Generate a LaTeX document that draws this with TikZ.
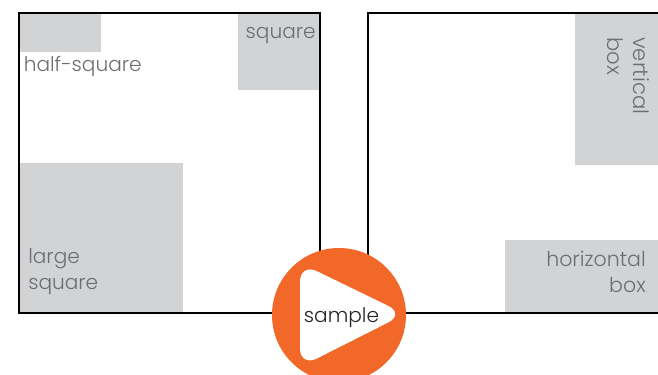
\documentclass[tikz,border=0pt]{standalone}
\usepackage{fontspec}
\setmainfont{Poppins Light}
\definecolor{boxgray}{HTML}{D1D3D4}
\definecolor{txt}{HTML}{6D6E71}
\definecolor{org}{HTML}{F26828}
\tikzset{x=0.75pt,y=-0.75pt,
frame/.style={draw=black,line width=1.5pt},
fillbox/.style={fill=boxgray,draw=none},
lab/.style={text=txt,font=\fontsize{15.1}{19.5}\selectfont,inner sep=0pt,align=left}}
\begin{document}
\begin{tikzpicture}
\useasboundingbox (0,0) rectangle (658,375);
\fill[fillbox] (20,14) rectangle (101,52);
\fill[fillbox] (238,14) rectangle (319,90);
\fill[fillbox] (20,163) rectangle (183,312);
\fill[fillbox] (575,14) rectangle (658,165);
\fill[fillbox] (505,240) rectangle (658,312);
\draw[frame] (19,13) rectangle (320,313);
\draw[frame] (658,13) -- (368,13) -- (368,313) -- (658,313);
\node[lab,anchor=west] (hs) at (23.5,66) {half-square};
\node[lab,anchor=east] (sq) at (316,35) {square};
\node[lab,anchor=west] (ls) at (28,272) {large\\square};
\node[lab,anchor=east,align=right,font=\fontsize{15.4}{19.5}\selectfont] (hb) at (646,272) {horizontal\\box};
\node[lab,anchor=north west,rotate=-90,align=left,font=\fontsize{15.9}{20}\selectfont] (vb) at (650,37) {vertical\\box};
\fill[org] (339,315) circle (67);
\fill[white,rounded corners=14pt] (300,263) -- (405,314) -- (300,367) -- cycle;
\node[lab,text=black!85,anchor=center] (s) at (341.5,318) {sample};
\end{tikzpicture}
\end{document}
